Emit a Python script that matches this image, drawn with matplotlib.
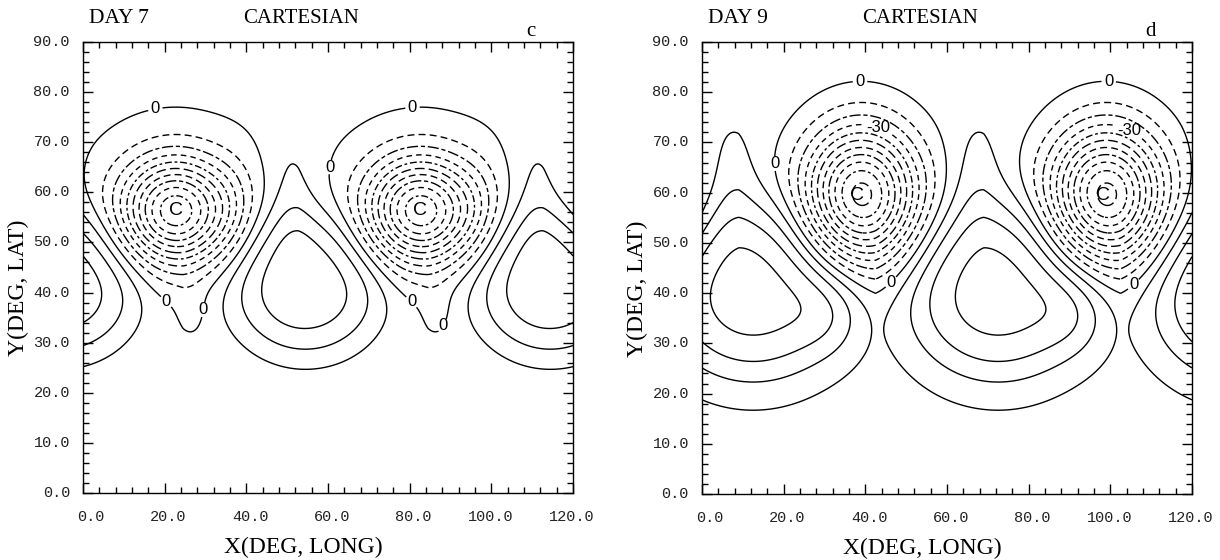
import numpy as np
import matplotlib

matplotlib.use("Agg")
import matplotlib.pyplot as plt
from matplotlib.ticker import MultipleLocator
from matplotlib.transforms import ScaledTranslation, blended_transform_factory

# features of each field, one entry per feature:
# centre longitude, centre latitude, amplitude, width lon, width lat, profile power
DAY7_X = [22.7, 36.0, 54.5, 51.0, 27.0]
DAY7_Y = [56.3, 57.0, 41.5, 61.0, 36.5]
DAY7_AMP = [-100.0, -6.0, 34.0, 9.0, -5.0]
DAY7_SX = [9.5, 4.0, 15.5, 4.2, 2.5]
DAY7_SY = [7.4, 7.0, 11.8, 10.0, 3.5]
DAY7_P = [2, 2, 3, 2, 2]
DAY7_BG = 2.0

DAY9_X = [39.0, 12.5, 7.0, 32.0]
DAY9_Y = [59.5, 40.3, 64.0, 36.0]
DAY9_AMP = [-110.0, 38.0, 7.5, 8.0]
DAY9_SX = [9.8, 18.5, 4.5, 6.0]
DAY9_SY = [9.4, 14.3, 8.0, 6.0]
DAY9_P = [2, 3, 2, 2]
DAY9_BG = 6.0

PERIOD = 60.0  # zonal wavelength of the pattern, degrees

NEG_LEVELS = [-100, -90, -80, -70, -60, -50, -40, -30, -20, -10]
POS_LEVELS = [0, 10, 20, 30, 40]

# where the contour labels sit
DAY7_ZERO_LABELS = [(17.4, 78.0), (23.0, 40.5), (29.7, 36.5), (62.4, 64.8),
                    (80.6, 78.0), (83.4, 40.6), (87.7, 33.6)]
DAY7_M30_LABELS = []
DAY9_ZERO_LABELS = [(38.7, 82.0), (16.1, 65.7), (45.8, 42.6),
                    (99.6, 82.0), (105.5, 41.9)]
DAY9_M30_LABELS = [(43.0, 72.4), (104.6, 72.4)]

DAY7_CENTRES = [(22.7, 56.3), (82.5, 56.3)]
DAY9_CENTRES = [(38.0, 59.5), (98.2, 59.5)]

X_TICKS = [0, 20, 40, 60, 80, 100, 120]
Y_TICKS = [0, 10, 20, 30, 40, 50, 60, 70, 80, 90]

SERIF = "Liberation Serif"
SANS = "Liberation Sans"
MONO = "Liberation Mono"

DASHES = [(0, (7, 3)), (0, (5, 2, 2, 2)), (0, (4, 3)), (0, (8, 2, 3, 2)), (0, (5, 3))]


def build_field(lon, lat, xs, ys, amps, sxs, sys_, ps, bg):
    field = np.full_like(lon, bg)
    for x0, y0, a, sx, sy, p in zip(xs, ys, amps, sxs, sys_, ps):
        dx = (lon - x0 + PERIOD / 2) % PERIOD - PERIOD / 2
        r = np.sqrt((dx / sx) ** 2 + ((lat - y0) / sy) ** 2)
        field += a * np.exp(-0.5 * r**p)
    return field


def draw_panel(fig, ax, field, lon, lat, day, letter, zero_labels, m30_labels, centres):
    labelled = {0: zero_labels, -30: m30_labels}
    for i, lev in enumerate(NEG_LEVELS + POS_LEVELS):
        style = DASHES[i % len(DASHES)] if lev < 0 else "solid"
        cs = ax.contour(lon, lat, field, levels=[lev], colors="black",
                        linewidths=1.0, linestyles=[style])
        if labelled.get(lev) and len(cs.allsegs[0]) > 0:
            labs = ax.clabel(cs, manual=labelled[lev], inline=True, inline_spacing=2,
                             fmt={lev: str(lev)}, fontsize=12)
            for t in labs:
                t.set_rotation(0)
                t.set_family(SANS)

    for cx, cy in centres:
        ax.text(cx, cy, "C", ha="center", va="center", fontsize=14, family=SANS)

    ax.set_xlim(0, 120)
    ax.set_ylim(0, 90)
    ax.xaxis.set_major_locator(MultipleLocator(20))
    ax.xaxis.set_minor_locator(MultipleLocator(4))
    ax.yaxis.set_major_locator(MultipleLocator(10))
    ax.yaxis.set_minor_locator(MultipleLocator(2))
    ax.tick_params(which="both", direction="in", top=True, right=True,
                   labelbottom=False, labelleft=False, width=1.0)
    ax.tick_params(which="major", length=7)
    ax.tick_params(which="minor", length=4)
    for s in ax.spines.values():
        s.set_linewidth(1.0)

    # tick labels, right aligned a little to the right of the tick as in the original
    xtr = blended_transform_factory(ax.transData, ax.transAxes)
    off_x = ScaledTranslation(0.22, -0.24, fig.dpi_scale_trans)
    for v in X_TICKS:
        ax.text(v, 0, f"{v:.1f}", transform=xtr + off_x, ha="right", va="center",
                fontsize=11, family=MONO, color="#222222")
    ytr = blended_transform_factory(ax.transAxes, ax.transData)
    off_y = ScaledTranslation(-0.13, 0, fig.dpi_scale_trans)
    for v in Y_TICKS:
        ax.text(0, v, f"{v:.1f}", transform=ytr + off_y, ha="right", va="center",
                fontsize=11, family=MONO, color="#222222")

    ax.text(0.45, 0, "X(DEG, LONG)", transform=ax.transAxes
            + ScaledTranslation(0, -0.54, fig.dpi_scale_trans),
            ha="center", va="center", fontsize=17, family=SERIF)
    ax.text(0, 0.455, "Y(DEG, LAT)", transform=ax.transAxes
            + ScaledTranslation(-0.65, 0, fig.dpi_scale_trans),
            ha="center", va="center", fontsize=17, family=SERIF, rotation=90)
    top = ax.transAxes + ScaledTranslation(0, 0.235, fig.dpi_scale_trans)
    ax.text(0.012, 1, f"DAY {day}", transform=top, ha="left", va="center",
            fontsize=15.5, family=SERIF)
    ax.text(0.326, 1, "CARTESIAN", transform=top, ha="left", va="center",
            fontsize=15, family=SERIF)
    ax.text(0.915, 1, letter, transform=ax.transAxes
            + ScaledTranslation(0, 0.11, fig.dpi_scale_trans),
            ha="center", va="center", fontsize=15, family=SERIF)


lon = np.linspace(0, 120, 601)
lat = np.linspace(0, 90, 451)
LON, LAT = np.meshgrid(lon, lat)

f7 = build_field(LON, LAT, DAY7_X, DAY7_Y, DAY7_AMP, DAY7_SX, DAY7_SY, DAY7_P, DAY7_BG)
f9 = build_field(LON, LAT, DAY9_X, DAY9_Y, DAY9_AMP, DAY9_SX, DAY9_SY, DAY9_P, DAY9_BG)

fig = plt.figure(figsize=(12.2, 5.6), dpi=100)
ax1 = fig.add_axes([83 / 1220, 1 - 493 / 560, 490 / 1220, 451 / 560])
ax2 = fig.add_axes([702 / 1220, 1 - 494 / 560, 490 / 1220, 452 / 560])

draw_panel(fig, ax1, f7, lon, lat, 7, "c", DAY7_ZERO_LABELS, DAY7_M30_LABELS, DAY7_CENTRES)
draw_panel(fig, ax2, f9, lon, lat, 9, "d", DAY9_ZERO_LABELS, DAY9_M30_LABELS, DAY9_CENTRES)

fig.savefig("out.png", dpi=100)
